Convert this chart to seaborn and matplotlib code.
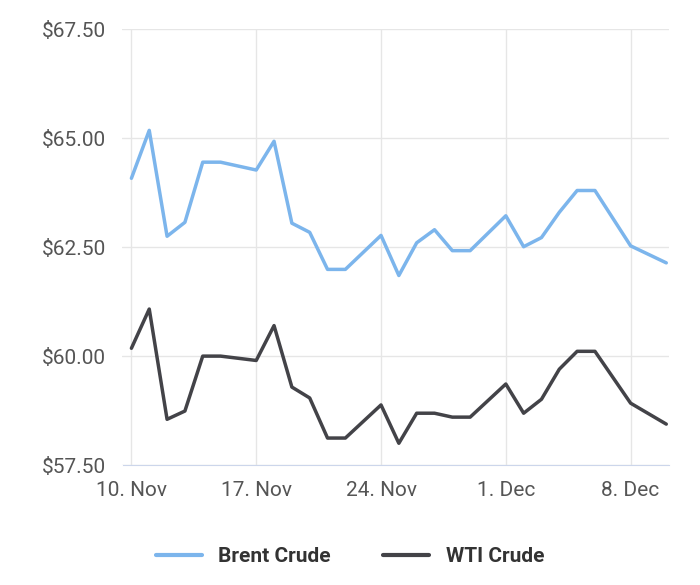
import pandas as pd
import numpy as np
import matplotlib
matplotlib.use('Agg')
import matplotlib.pyplot as plt
import matplotlib.dates as mdates
import seaborn as sns

sns.set_style('white')
plt.rcParams['font.family'] = ['Roboto', 'DejaVu Sans']

day_offsets = [0, 1, 2, 3, 4, 5, 7, 8, 9, 10, 11, 12, 14, 15, 16, 17, 18, 19,
               21, 22, 23, 24, 25, 26, 28, 30]
brent = [64.08, 65.18, 62.75, 63.07, 64.45, 64.45, 64.27, 64.93, 63.05, 62.84,
         61.99, 61.99, 62.77, 61.85, 62.60, 62.90, 62.42, 62.42, 63.22, 62.51,
         62.72, 63.30, 63.80, 63.80, 62.53, 62.14]
wti = [60.18, 61.08, 58.55, 58.74, 60.00, 60.00, 59.90, 60.70, 59.29, 59.04,
       58.12, 58.12, 58.88, 58.00, 58.69, 58.69, 58.60, 58.60, 59.36, 58.69,
       59.01, 59.70, 60.11, 60.11, 58.92, 58.44]

dates = pd.Timestamp('2025-11-10') + pd.to_timedelta(day_offsets, unit='D')
df = pd.DataFrame({'date': dates, 'Brent Crude': brent, 'WTI Crude': wti})
long = df.melt('date', var_name='series', value_name='price')

fig, ax = plt.subplots(figsize=(7, 5.85), dpi=100)
fig.subplots_adjust(left=0.175, right=0.955, top=0.95, bottom=0.205)

sns.lineplot(data=long, x='date', y='price', hue='series',
             palette={'Brent Crude': '#7cb5ec', 'WTI Crude': '#434348'},
             linewidth=2.5, ax=ax, legend=False)

ax.set_ylim(57.5, 67.5)
ax.set_yticks([57.5, 60, 62.5, 65, 67.5])
ax.set_yticklabels([f'${v:.2f}' for v in [57.5, 60, 62.5, 65, 67.5]])
ax.set_xlim(pd.Timestamp('2025-11-09 12:00'), pd.Timestamp('2025-12-10 03:00'))
ticks = pd.to_datetime(['2025-11-10', '2025-11-17', '2025-11-24', '2025-12-01', '2025-12-08'])
ax.set_xticks(ticks)
ax.set_xticklabels(['10. Nov', '17. Nov', '24. Nov', '1. Dec', '8. Dec'])
ax.set_xlabel('')
ax.set_ylabel('')

ax.grid(True, color='#e6e6e6', linewidth=1)
for s in ['top', 'right', 'left']:
    ax.spines[s].set_visible(False)
ax.spines['bottom'].set_color('#ccd6eb')
ax.tick_params(axis='x', colors='#ccd6eb', length=8, width=1, labelcolor='#555555', labelsize=15)
ax.tick_params(axis='y', length=0, labelcolor='#555555', labelsize=15, pad=12)

from matplotlib.lines import Line2D
handles = [Line2D([], [], color='#7cb5ec', lw=3), Line2D([], [], color='#434348', lw=3)]
leg = fig.legend(handles, ['Brent Crude', 'WTI Crude'], loc='lower center',
                 bbox_to_anchor=(0.5, 0.0), ncol=2, frameon=False,
                 prop={'weight': 'bold', 'size': 15}, handlelength=2.2, columnspacing=2.5)
for t in leg.get_texts():
    t.set_color('#333333')

fig.savefig('out.png', dpi=100)
